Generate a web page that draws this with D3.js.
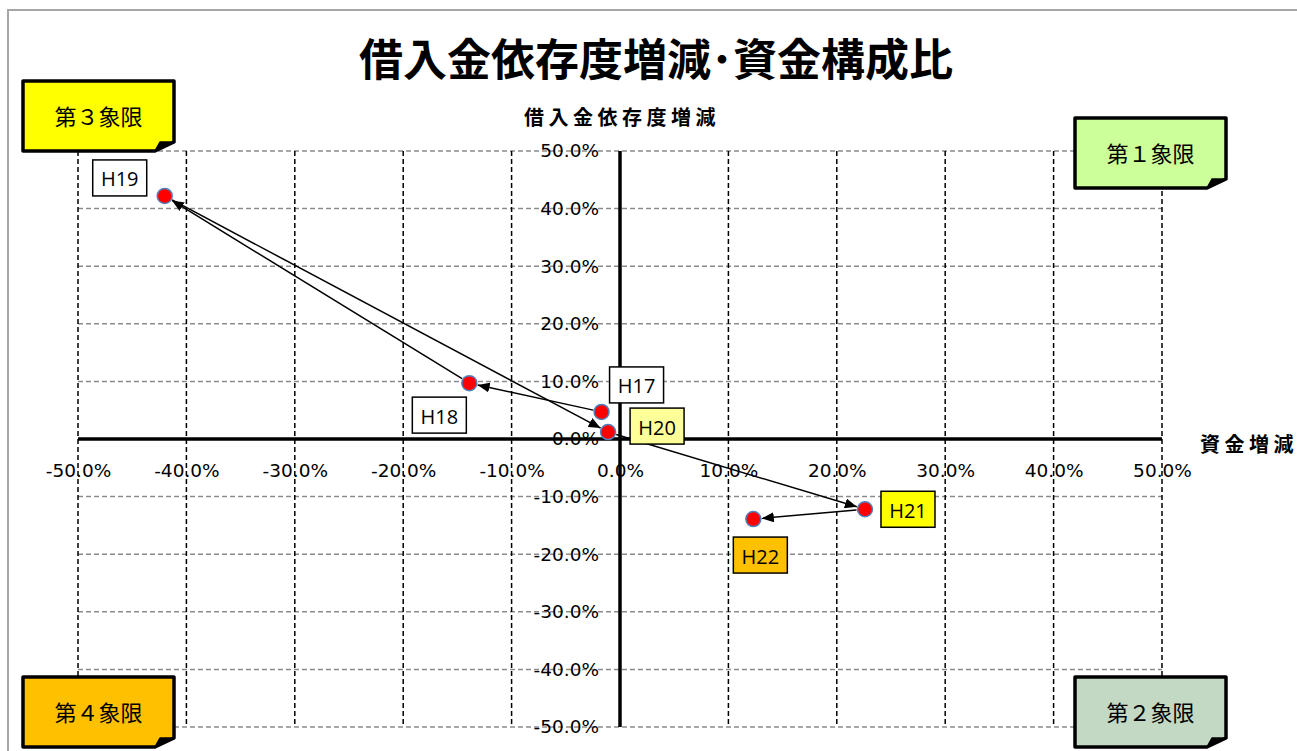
<!DOCTYPE html>
<html>
<head>
<meta charset="utf-8">
<script src="https://cdn.jsdelivr.net/npm/d3@7/dist/d3.min.js"></script>
<style>
  html, body { margin: 0; padding: 0; background: #fff; }
  svg { display: block; }
</style>
</head>
<body>
<svg id="chart" width="1297" height="751"></svg>
<script>
// ---- data -------------------------------------------------------------
const years = ["H17", "H18", "H19", "H20", "H21", "H22"];
// 資金増減 (x) and 借入金依存度増減 (y), in fractions
const fundChange = [-0.017, -0.139, -0.420, -0.011, 0.226, 0.123];
const debtChange = [0.047, 0.097, 0.422, 0.012, -0.122, -0.139];
const labelFills = ["#ffffff", "#ffffff", "#ffffff", "#ffff99", "#ffff00", "#ffc000"];
const tickValues = [-0.5, -0.4, -0.3, -0.2, -0.1, 0, 0.1, 0.2, 0.3, 0.4, 0.5];
const quadrants = ["第３象限", "第１象限", "第４象限", "第２象限"];
const quadrantFills = ["#ffff00", "#ccff99", "#ffc000", "#c4d9c4"];
const title = "借入金依存度増減･資金構成比";
const yTitle = "借入金依存度増減";
const xTitle = "資金増減";

// ---- layout -----------------------------------------------------------
const svg = d3.select("#chart");
const x = d3.scaleLinear().domain([-0.5, 0.5]).range([78, 1162]);
const y = d3.scaleLinear().domain([-0.5, 0.5]).range([727, 151]);
const fmt = d3.formatLocale({decimal: ".", thousands: ",", grouping: [3],
  currency: ["", ""], minus: "-", percent: "%"}).format(".1%");
const CJK = "'Noto Sans CJK JP', 'Noto Sans', sans-serif";

// outer frame
svg.append("path")
  .attr("d", "M8,751 V10 H1297")
  .attr("fill", "none").attr("stroke", "#a6a6a6").attr("stroke-width", 2);

// title
svg.append("text")
  .attr("x", 656).attr("y", 57)
  .attr("text-anchor", "middle").attr("dominant-baseline", "central")
  .style("font-family", CJK).style("font-weight", 700)
  .style("font-size", "44px")
  .text(title);

// gridlines
const grid = svg.append("g");
grid.selectAll("line.h").data(tickValues).join("line")
  .attr("class", "h")
  .attr("x1", x(-0.5)).attr("x2", x(0.5))
  .attr("y1", d => y(d)).attr("y2", d => y(d))
  .attr("stroke", "#8c8c8c").attr("stroke-width", 1.5)
  .attr("stroke-dasharray", "5,3");
grid.selectAll("line.v").data(tickValues.filter(d => d !== 0)).join("line")
  .attr("class", "v")
  .attr("y1", y(0.5)).attr("y2", y(-0.5))
  .attr("x1", d => x(d)).attr("x2", d => x(d))
  .attr("stroke", "#000").attr("stroke-width", 1.5)
  .attr("stroke-dasharray", "5,3");

// axes through the origin
svg.append("line")
  .attr("x1", x(-0.5)).attr("x2", x(0.5)).attr("y1", y(0)).attr("y2", y(0))
  .attr("stroke", "#000").attr("stroke-width", 3.5);
svg.append("line")
  .attr("x1", x(0)).attr("x2", x(0)).attr("y1", y(0.5)).attr("y2", y(-0.5))
  .attr("stroke", "#000").attr("stroke-width", 3.5);

const xAxis = svg.append("g")
  .attr("transform", `translate(0,${y(0)})`)
  .call(d3.axisBottom(x).tickValues(tickValues).tickFormat(fmt).tickSize(0).tickPadding(25));
const yAxis = svg.append("g")
  .attr("transform", `translate(${x(0)},0)`)
  .call(d3.axisLeft(y).tickValues(tickValues).tickFormat(fmt).tickSize(0).tickPadding(21));
[xAxis, yAxis].forEach(a => {
  a.select(".domain").remove();
  a.selectAll("text")
    .style("font-family", "'DejaVu Sans', sans-serif")
    .style("font-size", "18.5px").attr("fill", "#000");
});

// axis titles
svg.append("text")
  .attr("x", 622).attr("y", 116)
  .attr("text-anchor", "middle").attr("dominant-baseline", "central")
  .style("font-family", CJK).style("font-weight", 700)
  .style("font-size", "20px").style("letter-spacing", "4.5px")
  .text(yTitle);
svg.append("text")
  .attr("x", 1200).attr("y", 443)
  .attr("dominant-baseline", "central")
  .style("font-family", CJK).style("font-weight", 700)
  .style("font-size", "20px").style("letter-spacing", "4.5px")
  .text(xTitle);

// quadrant callouts with a folded corner
const qBoxes = [
  {x: 23, y: 81}, {x: 1075, y: 118}, {x: 23, y: 677}, {x: 1075, y: 677}
];
const qW = 151, qH = 70;
qBoxes.forEach((b, i) => {
  const g = svg.append("g").attr("transform", `translate(${b.x},${b.y})`);
  g.append("path")
    .attr("d", `M0,0 H${qW} V${qH - 9} L${qW - 19},${qH} H0 Z`)
    .attr("fill", quadrantFills[i]).attr("stroke", "#000")
    .attr("stroke-width", 3.5).attr("stroke-linejoin", "round");
  g.append("path")
    .attr("d", `M${qW - 19},${qH} L${qW - 14},${qH - 9} L${qW},${qH - 9} Z`)
    .attr("fill", "#000").attr("stroke", "#000").attr("stroke-width", 1.5)
    .attr("stroke-linejoin", "round");
  g.append("text")
    .attr("x", qW / 2).attr("y", qH / 2 - 1)
    .attr("text-anchor", "middle").attr("dominant-baseline", "central")
    .style("font-family", CJK).style("font-size", "22px")
    .text(quadrants[i]);
});

// arrow links between consecutive years
const pts = years.map((k, i) => ({k, px: x(fundChange[i]), py: y(debtChange[i])}));
svg.append("defs").append("marker")
  .attr("id", "arrow").attr("viewBox", "0 0 12 10")
  .attr("refX", 12).attr("refY", 5)
  .attr("markerWidth", 12).attr("markerHeight", 10)
  .attr("markerUnits", "userSpaceOnUse").attr("orient", "auto")
  .append("path").attr("d", "M0,0 L12,5 L0,10 Z").attr("fill", "#000");

const R = 7.5;
const links = d3.pairs(pts);
svg.append("g").selectAll("line").data(links).join("line")
  .each(function([a, b]) {
    const dx = b.px - a.px, dy = b.py - a.py, len = Math.hypot(dx, dy);
    const s = (R + 1) / len;
    d3.select(this)
      .attr("x1", a.px + dx * s).attr("y1", a.py + dy * s)
      .attr("x2", b.px - dx * s).attr("y2", b.py - dy * s);
  })
  .attr("stroke", "#000").attr("stroke-width", 1.5)
  .attr("marker-end", "url(#arrow)");

// points
svg.append("g").selectAll("circle").data(pts).join("circle")
  .attr("cx", d => d.px).attr("cy", d => d.py).attr("r", R)
  .attr("fill", "#ff0000").attr("stroke", "#4f81bd").attr("stroke-width", 1.5);

// year labels, placed beside each point
const labelOffset = {
  H17: [8, -45], H18: [-57, 14], H19: [-72, -36],
  H20: [22, -24], H21: [16, -18], H22: [-20, 18]
};
const lW = 54, lH = 36;
pts.forEach((p, i) => {
  const [ox, oy] = labelOffset[p.k];
  const g = svg.append("g").attr("transform", `translate(${p.px + ox},${p.py + oy})`);
  g.append("rect").attr("width", lW).attr("height", lH)
    .attr("fill", labelFills[i]).attr("stroke", "#000").attr("stroke-width", 1.5);
  g.append("text")
    .attr("x", lW / 2).attr("y", lH / 2 + 1)
    .attr("text-anchor", "middle").attr("dominant-baseline", "central")
    .style("font-family", "'Open Sans', 'Liberation Sans', sans-serif")
    .style("font-size", "20px")
    .text(p.k);
});
</script>
</body>
</html>
